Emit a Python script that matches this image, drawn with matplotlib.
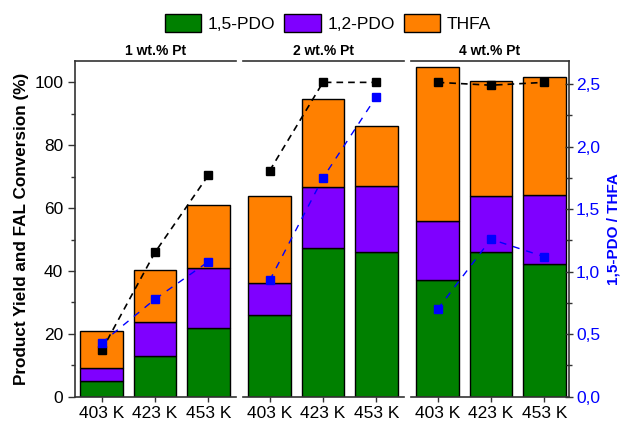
import matplotlib
matplotlib.use('Agg')
import matplotlib.pyplot as plt
from matplotlib.patches import Patch
from matplotlib.ticker import MultipleLocator, FuncFormatter

plt.rcParams['font.family'] = ['Liberation Sans', 'DejaVu Sans']

temps = ['403 K', '423 K', '453 K']
loadings = ['1 wt.% Pt', '2 wt.% Pt', '4 wt.% Pt']
series_names = ['1,5-PDO', '1,2-PDO', 'THFA']
pdo15 = [[5.0, 12.9, 21.9], [25.9, 47.3, 46.0], [37.0, 46.0, 42.2]]
pdo12 = [[4.2, 11.0, 18.9], [10.4, 19.4, 21.0], [18.8, 17.8, 22.0]]
thfa = [[11.8, 16.5, 20.3], [27.5, 27.9, 19.1], [49.2, 36.6, 37.6]]
conversion = [[14.7, 45.9, 70.4], [71.9, 100.0, 100.0], [100.0, 99.1, 100.0]]
ratio = [[0.43, 0.78, 1.08], [0.93, 1.75, 2.40], [0.70, 1.26, 1.12]]

colors = ['#008000', '#7F00FF', '#FF8000']
spine_c = '#333333'

W, H = 623, 425
fig = plt.figure(figsize=(W / 100, H / 100), dpi=100)

bottom = (H - 396.7) / H
height = 335.7 / H
lefts = [75, 243, 411]
widths = [161, 161, 158]

for i in range(3):
    ax = fig.add_axes([lefts[i] / W, bottom, widths[i] / W, height])
    x = list(range(3))
    b1 = pdo15[i]
    b2 = [a + b for a, b in zip(pdo15[i], pdo12[i])]
    ax.bar(x, pdo15[i], width=0.8, color=colors[0], edgecolor='black', linewidth=1.0, zorder=2)
    ax.bar(x, pdo12[i], width=0.8, bottom=b1, color=colors[1], edgecolor='black', linewidth=1.0, zorder=2)
    ax.bar(x, thfa[i], width=0.8, bottom=b2, color=colors[2], edgecolor='black', linewidth=1.0, zorder=2)
    ax.plot(x, conversion[i], color='black', linestyle=(0, (4, 3)), linewidth=1.2,
            marker='s', markersize=6, zorder=4)
    ax.set_xlim(-0.5, -0.5 + widths[i] / 53.3)
    ax.set_ylim(0, 106.8)
    ax.set_xticks(x)
    ax.set_xticklabels(temps, fontsize=12.5)
    ax.tick_params(axis='x', direction='out', length=3.5, width=1.0, color=spine_c, pad=3)
    ax.set_title(loadings[i], fontsize=10, fontweight='bold', pad=4)
    for s in ['top', 'bottom']:
        ax.spines[s].set_color(spine_c)
        ax.spines[s].set_linewidth(1.2)
    ax.spines['right'].set_visible(False)
    if i == 0:
        ax.spines['left'].set_color(spine_c)
        ax.spines['left'].set_linewidth(1.2)
        ax.yaxis.set_major_locator(MultipleLocator(20))
        ax.yaxis.set_minor_locator(MultipleLocator(10))
        ax.tick_params(axis='y', which='major', direction='out', length=5, width=1.0,
                       color=spine_c, labelsize=12.5)
        ax.tick_params(axis='y', which='minor', direction='out', length=3, width=1.0, color=spine_c)
        ax.set_ylabel('Product Yield and FAL Conversion (%)', fontsize=12.3, fontweight='bold', labelpad=4)
    else:
        ax.spines['left'].set_visible(False)
        ax.set_yticks([])

    tw = ax.twinx()
    tw.set_ylim(0, 2.686)
    tw.plot(x, ratio[i], color='#0000FF', linestyle=(0, (5, 5)), linewidth=1.0,
            marker='s', markersize=6, zorder=5)
    for s in ['top', 'bottom', 'left']:
        tw.spines[s].set_visible(False)
    if i == 2:
        tw.spines['right'].set_color(spine_c)
        tw.spines['right'].set_linewidth(1.2)
        tw.yaxis.set_major_locator(MultipleLocator(0.5))
        tw.yaxis.set_minor_locator(MultipleLocator(0.25))
        tw.yaxis.set_major_formatter(FuncFormatter(lambda v, p: f'{v:.1f}'.replace('.', ',')))
        tw.tick_params(axis='y', which='major', direction='inout', length=6, width=1.0,
                       color=spine_c, labelsize=12.5, labelcolor='#0000FF', pad=2)
        tw.tick_params(axis='y', which='minor', direction='inout', length=4, width=1.0, color=spine_c)
        tw.set_ylabel('1,5-PDO / THFA', fontsize=11, fontweight='bold', color='#0000FF')
        tw.yaxis.set_label_coords((606 - 411) / 158, 0.5)
    else:
        tw.spines['right'].set_visible(False)
        tw.set_yticks([])

handles = [Patch(facecolor=c, edgecolor='black', linewidth=1.0) for c in colors]
fig.legend(handles, series_names, loc='center', bbox_to_anchor=(328 / W, 1 - 23 / H),
           ncol=3, frameon=False, fontsize=12.5, handlelength=2.1, handleheight=1.2,
           handletextpad=0.4, columnspacing=0.5, borderpad=0.2)

fig.savefig('out.png', dpi=100)
